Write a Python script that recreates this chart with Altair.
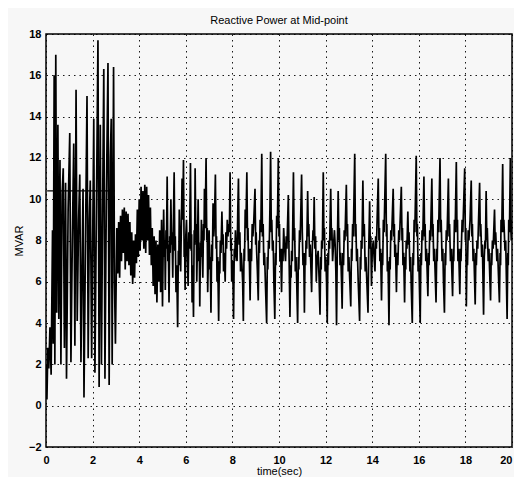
import altair as alt
import pandas as pd

# Reactive power (MVAR) vs time (s), as [time, value] pairs by segment
seg_transient = [
    [0.00, 2.0], [0.04, 0.3], [0.08, 2.8], [0.12, 1.8], [0.17, 3.8], [0.22, 1.5], [0.28, 8.5], [0.31, 3.0],
    [0.35, 16.0], [0.38, 2.0], [0.42, 17.0], [0.46, 4.5], [0.51, 13.6], [0.55, 4.2], [0.60, 11.9], [0.64, 2.0],
    [0.69, 10.2], [0.74, 11.5], [0.79, 2.8], [0.84, 10.8], [0.88, 1.3], [0.95, 9.5], [1.02, 13.2], [1.07, 2.1],
    [1.13, 8.0], [1.19, 12.7], [1.24, 2.9], [1.29, 15.3], [1.34, 4.1], [1.40, 9.0], [1.45, 11.2], [1.50, 2.1],
    [1.55, 7.0], [1.59, 10.5], [1.63, 0.4], [1.70, 8.5], [1.76, 15.0], [1.81, 2.3], [1.86, 9.0], [1.90, 10.9],
    [1.96, 2.3], [2.05, 13.9], [2.10, 1.6], [2.16, 9.0], [2.23, 17.7], [2.28, 0.9], [2.33, 13.6], [2.38, 2.0],
    [2.43, 9.5], [2.48, 16.3], [2.53, 1.3], [2.59, 10.0], [2.66, 16.6], [2.71, 1.0], [2.76, 12.0], [2.80, 13.9],
    [2.84, 2.0], [2.90, 16.4], [2.94, 6.0], [2.98, 3.0],
]
seg_settle = [
    [3.04, 8.6], [3.08, 6.4], [3.12, 8.9], [3.16, 6.2], [3.20, 9.2], [3.24, 7.0], [3.28, 9.5], [3.32, 7.4],
    [3.36, 9.6], [3.40, 6.6], [3.44, 9.4], [3.48, 7.0], [3.52, 9.3], [3.56, 6.8], [3.60, 8.9], [3.64, 6.3],
    [3.68, 8.4], [3.72, 5.9], [3.76, 8.0], [3.80, 6.2], [3.84, 8.3], [3.88, 6.9], [3.92, 9.5], [3.96, 7.2],
    [4.00, 10.0], [4.04, 7.5], [4.08, 10.6], [4.12, 8.0], [4.16, 10.4], [4.20, 7.6], [4.24, 10.7], [4.28, 7.4],
    [4.32, 10.6], [4.36, 8.0], [4.40, 10.2], [4.44, 7.3], [4.48, 9.6], [4.52, 6.8], [4.56, 8.6], [4.60, 5.8],
    [4.64, 8.2], [4.68, 5.4], [4.72, 8.0], [4.76, 5.0], [4.80, 7.8], [4.84, 6.0], [4.88, 8.5], [4.92, 5.5],
    [4.96, 9.0], [5.00, 4.8],
]
seg_osc_a = [
    [5.03, 7.8], [5.05, 9.5], [5.08, 7.2], [5.10, 8.0], [5.12, 5.6], [5.15, 8.5], [5.17, 7.6], [5.20, 11.1],
    [5.23, 7.0], [5.25, 7.8], [5.28, 5.0], [5.31, 8.2], [5.33, 7.4], [5.36, 10.0], [5.39, 7.8], [5.41, 8.4],
    [5.44, 6.2], [5.47, 9.0], [5.50, 11.3], [5.53, 7.5], [5.55, 8.2], [5.58, 5.5], [5.61, 6.8], [5.65, 3.8],
    [5.68, 7.5], [5.70, 6.8], [5.72, 9.5], [5.75, 7.9], [5.78, 6.5], [5.81, 8.8], [5.84, 11.0], [5.87, 9.0],
    [5.90, 11.9], [5.93, 7.2], [5.95, 8.0], [5.97, 5.6], [6.00, 8.2], [6.03, 9.0], [6.06, 7.4], [6.10, 5.8],
    [6.13, 8.4], [6.16, 7.6], [6.20, 11.75], [6.23, 7.5], [6.25, 8.3], [6.27, 5.0], [6.30, 6.8], [6.33, 4.3],
    [6.36, 8.5], [6.38, 7.8], [6.40, 11.5], [6.43, 8.2], [6.45, 8.8], [6.47, 6.0], [6.50, 7.8], [6.53, 10.0],
    [6.56, 7.0], [6.58, 7.6], [6.60, 4.8], [6.63, 7.9], [6.65, 7.2], [6.67, 9.0], [6.70, 7.6], [6.73, 6.2],
    [6.76, 8.8], [6.78, 8.0], [6.80, 10.5], [6.83, 8.6], [6.87, 12.0], [6.90, 8.0], [6.92, 8.6], [6.94, 5.5],
    [6.97, 7.4], [7.00, 8.5], [7.03, 6.6], [7.05, 7.2], [7.08, 4.5], [7.11, 7.8], [7.14, 7.0], [7.17, 9.8],
    [7.20, 8.2], [7.23, 8.9], [7.27, 11.2], [7.30, 7.6], [7.32, 8.2], [7.34, 6.0], [7.37, 7.2], [7.41, 4.1],
    [7.44, 7.0], [7.46, 6.4], [7.48, 8.0], [7.51, 7.4], [7.55, 9.4], [7.58, 7.8], [7.60, 8.3], [7.62, 6.5],
    [7.65, 7.4], [7.69, 6.0], [7.72, 8.4], [7.75, 7.6], [7.78, 9.0], [7.81, 8.2], [7.84, 8.8], [7.87, 8.4],
    [7.90, 11.3], [7.93, 7.5], [7.95, 8.1], [7.97, 6.0], [8.00, 7.0], [8.02, 6.4], [8.05, 4.2], [8.08, 7.6],
    [8.10, 7.0], [8.13, 8.5], [8.16, 7.4], [8.20, 7.0], [8.23, 9.4], [8.26, 11.0], [8.29, 7.8], [8.32, 8.4],
    [8.35, 6.5], [8.38, 7.4], [8.41, 6.8], [8.44, 6.0], [8.47, 4.1], [8.50, 7.6], [8.52, 7.0], [8.55, 9.5],
    [8.58, 8.6], [8.62, 11.3], [8.65, 8.0], [8.67, 8.6], [8.69, 7.0], [8.72, 7.6], [8.76, 5.1], [8.79, 7.6],
    [8.82, 7.0], [8.85, 8.8], [8.88, 8.2], [8.92, 9.0], [8.97, 10.5], [9.00, 7.8], [9.02, 8.4], [9.04, 7.5],
    [9.07, 6.6], [9.11, 5.1], [9.14, 8.0], [9.16, 7.4], [9.19, 9.0], [9.22, 8.4], [9.26, 12.2], [9.29, 8.2],
    [9.32, 8.8], [9.35, 6.8], [9.38, 7.4], [9.42, 5.8], [9.47, 4.0], [9.50, 7.2], [9.52, 6.6], [9.55, 8.0],
    [9.58, 7.6], [9.61, 9.5], [9.64, 12.3], [9.67, 8.4], [9.69, 9.0], [9.72, 7.5], [9.75, 8.0], [9.78, 6.0],
    [9.82, 4.2], [9.85, 7.4], [9.87, 6.8], [9.90, 9.2], [9.93, 8.6], [9.97, 12.0], [10.00, 8.2], [10.02, 8.8],
    [10.04, 7.0], [10.07, 7.6], [10.11, 5.5], [10.14, 7.6], [10.17, 7.0], [10.20, 8.6], [10.23, 7.8], [10.28, 7.0],
    [10.31, 8.2], [10.34, 7.6], [10.40, 10.2], [10.43, 7.4], [10.47, 4.3], [10.50, 6.8], [10.52, 6.2], [10.54, 7.5],
    [10.57, 7.0], [10.62, 11.3], [10.65, 8.0], [10.67, 8.6], [10.70, 6.5], [10.73, 7.2], [10.76, 6.0], [10.80, 4.0],
    [10.83, 7.2], [10.85, 6.6], [10.88, 8.5], [10.91, 8.0], [10.97, 11.2], [11.00, 8.4], [11.03, 6.8], [11.06, 7.4],
    [11.09, 4.5], [11.12, 7.4], [11.14, 6.8], [11.16, 8.0], [11.19, 7.6], [11.23, 10.4], [11.26, 8.2], [11.28, 8.8],
    [11.31, 7.2], [11.34, 7.8], [11.40, 5.5], [11.43, 7.6], [11.46, 8.5], [11.48, 8.0], [11.51, 10.1], [11.54, 7.6],
    [11.57, 8.2], [11.60, 6.0], [11.63, 7.0], [11.68, 7.5], [11.72, 6.2], [11.76, 4.4], [11.79, 7.2], [11.81, 6.6],
    [11.83, 8.0], [11.86, 7.6], [11.90, 11.3], [11.93, 8.0], [11.95, 8.6], [11.98, 6.5], [12.01, 7.2], [12.04, 6.0],
    [12.07, 4.0], [12.10, 7.4], [12.12, 6.8], [12.14, 8.0], [12.17, 7.6], [12.22, 10.5], [12.25, 8.0], [12.27, 8.6],
    [12.30, 7.0], [12.33, 7.6], [12.38, 8.5], [12.41, 7.8], [12.44, 6.5],
]
seg_osc_b = [
    [12.47, 3.9], [12.50, 7.4], [12.54, 10.4], [12.57, 8.0], [12.59, 8.6], [12.62, 6.8], [12.65, 7.4], [12.68, 6.2],
    [12.71, 4.7], [12.74, 7.4], [12.77, 6.8], [12.80, 8.5], [12.83, 8.0], [12.89, 10.7], [12.92, 8.2], [12.94, 8.8],
    [12.97, 6.5], [13.00, 7.2], [13.04, 6.0], [13.08, 4.8], [13.11, 7.6], [13.13, 7.0], [13.16, 8.8], [13.19, 8.2],
    [13.25, 12.2], [13.28, 8.2], [13.30, 8.8], [13.33, 7.0], [13.36, 7.6], [13.40, 6.0], [13.46, 4.1], [13.49, 7.2],
    [13.51, 6.6], [13.53, 8.0], [13.56, 7.6], [13.60, 10.9], [13.63, 8.2], [13.66, 8.8], [13.70, 6.5], [13.73, 7.2],
    [13.77, 6.0], [13.82, 4.5], [13.85, 7.5], [13.89, 9.9], [13.92, 7.6], [13.94, 8.2], [13.97, 5.8], [14.00, 7.4],
    [14.05, 8.0], [14.08, 7.2], [14.12, 6.5], [14.15, 8.2], [14.18, 7.6], [14.22, 9.4], [14.26, 11.0], [14.29, 8.0],
    [14.31, 8.6], [14.33, 7.0], [14.36, 7.6], [14.40, 5.1], [14.43, 7.4], [14.45, 6.8], [14.48, 9.0], [14.51, 8.4],
    [14.58, 12.2], [14.61, 8.2], [14.63, 8.8], [14.65, 6.5], [14.68, 7.0], [14.72, 3.9], [14.75, 7.2], [14.77, 6.6],
    [14.80, 8.5], [14.83, 8.0], [14.90, 10.5], [14.93, 8.2], [14.95, 8.8], [14.97, 7.2], [15.00, 7.8], [15.04, 5.5],
    [15.07, 7.4], [15.10, 6.8], [15.14, 8.5], [15.17, 8.0], [15.25, 10.6], [15.28, 8.0], [15.30, 8.6], [15.32, 6.8],
    [15.35, 7.4], [15.39, 5.0], [15.42, 7.2], [15.44, 6.6], [15.46, 8.0], [15.49, 7.6], [15.53, 9.4], [15.56, 7.8],
    [15.58, 8.4], [15.62, 6.5], [15.65, 7.2], [15.68, 5.6], [15.72, 4.0], [15.75, 7.4], [15.77, 6.8], [15.80, 9.0],
    [15.83, 8.4], [15.89, 12.1], [15.92, 8.2], [15.94, 8.8], [15.97, 6.5], [16.00, 7.2], [16.03, 5.6], [16.06, 4.0],
    [16.09, 7.4], [16.11, 6.8], [16.14, 8.5], [16.17, 8.0], [16.22, 11.1], [16.25, 8.2], [16.27, 8.8], [16.30, 7.0],
    [16.33, 7.6], [16.39, 5.3], [16.42, 7.4], [16.44, 6.8], [16.47, 8.5], [16.50, 8.0], [16.56, 11.0], [16.59, 8.2],
    [16.61, 8.8], [16.64, 7.0], [16.67, 7.6], [16.74, 5.0], [16.77, 7.6], [16.79, 7.0], [16.82, 9.0], [16.85, 8.4],
    [16.91, 12.0], [16.94, 8.4], [16.96, 9.0], [17.00, 7.0], [17.03, 7.6], [17.06, 6.0], [17.10, 4.5], [17.13, 7.4],
    [17.15, 6.8], [17.18, 8.5], [17.21, 8.0], [17.27, 11.0], [17.30, 8.2], [17.32, 8.8], [17.36, 7.0], [17.39, 7.6],
    [17.45, 5.3], [17.48, 7.6], [17.50, 7.0], [17.53, 9.0], [17.56, 8.4], [17.61, 11.8], [17.64, 8.4], [17.66, 9.0],
    [17.68, 7.0], [17.71, 7.6], [17.76, 5.4], [17.79, 7.6], [17.81, 7.0], [17.86, 9.0], [17.89, 8.4], [17.97, 11.5],
    [18.00, 8.0], [18.02, 8.6], [18.04, 4.8], [18.07, 7.4], [18.09, 6.8], [18.12, 8.5], [18.15, 8.0], [18.20, 9.0],
    [18.25, 10.9], [18.28, 8.2], [18.30, 8.8], [18.33, 7.0], [18.36, 7.6], [18.42, 4.9], [18.45, 7.4], [18.47, 6.8],
    [18.50, 8.0], [18.53, 7.6], [18.61, 10.8], [18.64, 8.2], [18.66, 8.8], [18.70, 7.2], [18.73, 7.8], [18.78, 4.4],
    [18.81, 7.2], [18.84, 8.0], [18.86, 7.6], [18.89, 10.4], [18.92, 8.0], [18.94, 8.6], [18.98, 7.0], [19.01, 7.6],
    [19.08, 5.1], [19.11, 7.4], [19.13, 6.8], [19.16, 8.0], [19.19, 7.6], [19.25, 9.5], [19.28, 7.8], [19.30, 8.4],
    [19.35, 7.0], [19.38, 7.6], [19.46, 5.0], [19.49, 7.4], [19.51, 6.8], [19.53, 9.0], [19.56, 8.4], [19.60, 11.7],
    [19.63, 8.4], [19.65, 9.0], [19.70, 7.5], [19.73, 8.0], [19.79, 4.2], [19.82, 7.4], [19.84, 6.8], [19.86, 9.0],
    [19.89, 8.4], [19.93, 12.0], [19.95, 8.6], [19.97, 8.0], [20.00, 9.0],
]

# short flat trace visible across the early transient
flat_t = [0.05, 2.95]
flat_q = [10.4, 10.4]

x_ticks = [0, 2, 4, 6, 8, 10, 12, 14, 16, 18, 20]
y_ticks = [-2, 0, 2, 4, 6, 8, 10, 12, 14, 16, 18]

rows = seg_transient + seg_settle + seg_osc_a + seg_osc_b
df = pd.DataFrame(rows, columns=["t", "q"])
df_flat = pd.DataFrame({"t": flat_t, "q": flat_q})

FONT = "Liberation Sans"

x_enc = alt.X(
    "t:Q",
    scale=alt.Scale(domain=[0, 20], nice=False, zero=False),
    axis=alt.Axis(
        values=x_ticks,
        title="time(sec)",
        grid=True,
        gridColor="black",
        gridDash=[1.5, 4],
        gridOpacity=0.9,
        ticks=False,
        domain=False,
        labelFont=FONT,
        labelFontSize=11,
        labelFontWeight="bold",
        labelColor="black",
        labelPadding=7,
        labelAlign=alt.ExprRef(expr="datum.value == 20 ? 'right' : 'center'"),
        titleFont=FONT,
        titleFontSize=11,
        titleFontWeight="normal",
        titleColor="black",
        titlePadding=0,
        labelFlush=False,
    ),
)
y_enc = alt.Y(
    "q:Q",
    scale=alt.Scale(domain=[-2, 18], nice=False, zero=False),
    axis=alt.Axis(
        values=y_ticks,
        title="MVAR",
        grid=True,
        gridColor="black",
        gridDash=[1.5, 4],
        gridOpacity=0.9,
        ticks=False,
        domain=False,
        labelFont=FONT,
        labelFontSize=11,
        labelFontWeight="bold",
        labelColor="black",
        labelPadding=5,
        titleFont=FONT,
        titleFontSize=11,
        titleFontWeight="normal",
        titleColor="black",
        titlePadding=4,
        labelFlush=False,
    ),
)

line = alt.Chart(df).mark_line(color="black", strokeWidth=1.7, clip=True).encode(x=x_enc, y=y_enc)
flat = alt.Chart(df_flat).mark_line(color="black", strokeWidth=1.2, clip=True).encode(
    x=alt.X("t:Q"), y=alt.Y("q:Q")
)

chart = (
    alt.layer(line, flat)
    .properties(
        width=466,
        height=413,
        title=alt.TitleParams(
            "Reactive Power at Mid-point",
            font=FONT,
            fontSize=11,
            fontWeight="normal",
            color="black",
            offset=2,
        ),
        autosize=alt.AutoSizeParams(type="none"),
        padding={"left": 38, "top": 26, "right": 2, "bottom": 30},
        background="#f7f7f7",
    )
    .configure_view(stroke="black", strokeWidth=1.5)
)

chart.save("out.html", embed_options={"renderer": "svg", "actions": False})
